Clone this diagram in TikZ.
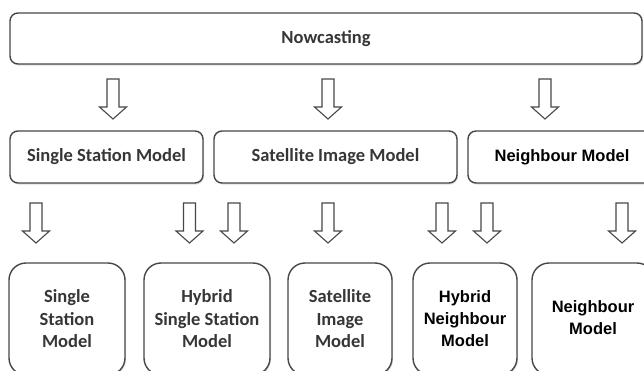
\documentclass[tikz,border=0pt]{standalone}
\usepackage{fontspec}
\setmainfont{Carlito}
\newfontfamily\arialf{Liberation Sans}
\usetikzlibrary{shadows}
\definecolor{edge}{HTML}{474747}
\definecolor{txt}{HTML}{363636}
\tikzset{
  box/.style={draw=edge, line width=1.4pt, rounded corners=8pt, fill=white,
    drop shadow={shadow xshift=1pt, shadow yshift=-1.5pt, opacity=.25},
    font=\bfseries\fontsize{18.5}{22.5}\selectfont, text=txt, align=center, inner sep=0pt},
  bigbox/.style={box, rounded corners=17pt},
  nbfont/.style={font=\arialf\bfseries\fontsize{16.5}{22}\selectfont, text=black},
  blk/.style={draw=edge, line width=1.1pt, fill=white, line join=miter},
  downarrow/.pic={\draw[blk] (-6,0) -- (6,0) -- (6,28) -- (13.5,28) -- (0,40) -- (-13.5,28) -- (-6,28) -- cycle;}
}
\begin{document}
\begin{tikzpicture}[x=1pt,y=-1pt]
\useasboundingbox (0,0) rectangle (644,370);
\clip (0,0) rectangle (644,370);
\fill[white] (0,0) rectangle (644,370);
% top
\node[box, minimum width=632pt, minimum height=51pt] (now) at (326,38.5) {Nowcasting};
% middle
\node[box, minimum width=193pt, minimum height=52pt] (ssm) at (106.5,157) {Single Station Model};
\node[box, minimum width=243pt, minimum height=52pt] (sim) at (335.5,157) {Satellite Image Model};
\node[box, nbfont, minimum width=188pt, minimum height=52pt] (nm) at (562,157) {Neighbour Model};
% bottom
\node[bigbox, minimum width=116pt, minimum height=112pt] (b1) at (67,319) {Single\\Station\\Model};
\node[bigbox, minimum width=126pt, minimum height=112pt] (b2) at (207,319) {Hybrid\\Single Station\\Model};
\node[bigbox, minimum width=104pt, minimum height=112pt] (b3) at (340,319) {Satellite\\Image\\Model};
\node[bigbox, nbfont, minimum width=104pt, minimum height=112pt] (b4) at (465,319) {Hybrid\\Neighbour\\Model};
\node[bigbox, nbfont, minimum width=122pt, minimum height=112pt] (b5) at (593,319) {\raisebox{3pt}{\begin{tabular}{@{}c@{}}Neighbour\\Model\end{tabular}}};
% arrows row 1
\coordinate (t1) at (113,79);
\coordinate (t2) at (328,79);
\coordinate (t3) at (545,79);
\foreach \c in {t1,t2,t3} \pic at (\c) {downarrow};
% arrows row 2
\coordinate (u1) at (36,203);
\coordinate (u2) at (189.5,203);
\coordinate (u3) at (234,203);
\coordinate (u4) at (328,203);
\coordinate (u5) at (442,203);
\coordinate (u6) at (487,203);
\coordinate (u7) at (622,203);
\foreach \c in {u1,u2,u3,u4,u5,u6,u7} \pic at (\c) {downarrow};
\end{tikzpicture}
\end{document}
